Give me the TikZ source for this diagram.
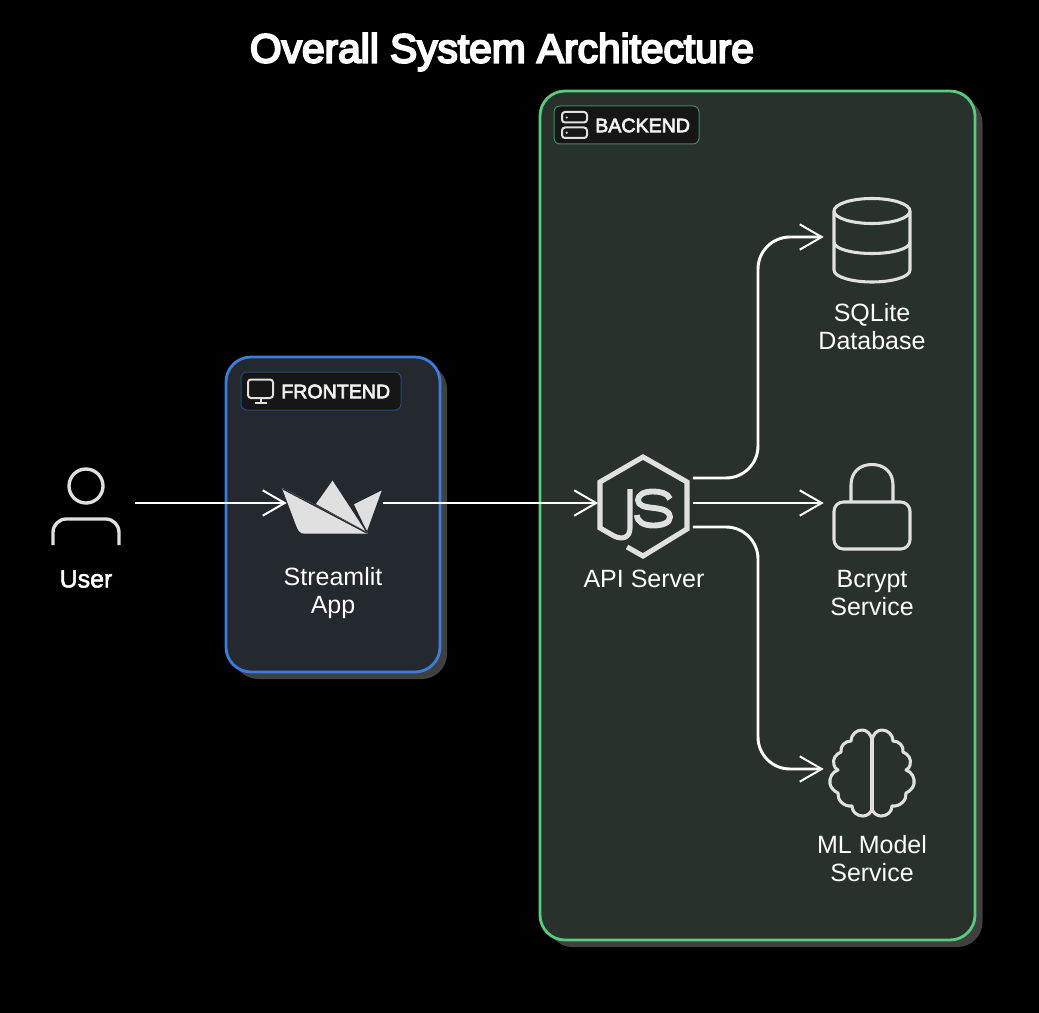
\documentclass[tikz,border=0pt]{standalone}
\usepackage{fontspec}
\setmainfont{Liberation Sans}
\newfontfamily\titlefont[FakeBold=5]{Liberation Sans}
\newfontfamily\chipfont[FakeBold=3.5]{Liberation Sans}
\newfontfamily\userfont[FakeBold=2]{Liberation Sans}
\usetikzlibrary{arrows.meta,calc}
\definecolor{bkfill}{HTML}{29312C}
\definecolor{frfill}{HTML}{24292F}
\definecolor{shadowc}{HTML}{404040}
\definecolor{bkline}{HTML}{57CC7A}
\definecolor{frline}{HTML}{3C7CDC}
\definecolor{chipfill}{HTML}{161616}
\definecolor{bkchip}{HTML}{3E8A58}
\definecolor{frchip}{HTML}{264A78}
\definecolor{iconc}{HTML}{E0E0E0}
\tikzset{
  px/.style={x=.75pt,y=-.75pt},
  groupbox/.style={rectangle,rounded corners=18.75pt,line width=2.1pt,inner sep=0pt},
  groupshadow/.style={rectangle,rounded corners=18.75pt,fill=shadowc,inner sep=0pt},
  chip/.style={rectangle,rounded corners=4.5pt,fill=chipfill,line width=.75pt,inner sep=0pt},
  chiptext/.style={anchor=west,inner sep=0pt,text=white!95!black,font=\chipfont\fontsize{14.7}{18}\selectfont},
  label/.style={align=center,inner sep=0pt,text=white,font=\fontsize{18.75}{21}\selectfont},
  iconbox/.style={rectangle,inner sep=0pt,minimum height=75pt},
  conn/.style={draw=white,line width=2.2pt,shorten >=-1.5pt,-{Straight Barb[length=16.5pt,width=19pt,line width=1.5pt]}},
  iconline/.style={draw=iconc,line width=2.3pt,line join=round},
  smallicon/.style={draw=iconc,line width=1.5pt,line join=round},
}
\begin{document}
\begin{tikzpicture}[px]
\useasboundingbox (0,0) rectangle (1039,1013);
\fill[black] (0,0) rectangle (1039,1013);
% title
\node[inner sep=0pt,text=white,font=\titlefont\fontsize{30.5}{36}\selectfont] (title) at (502,52) {Overall System Architecture};
% groups
\node[groupshadow,minimum width=326.25pt,minimum height=636.75pt] (backendshadow) at (765,522.5) {};
\node[groupbox,draw=bkline,fill=bkfill,minimum width=326.25pt,minimum height=636.75pt] (backend) at (757.5,515.5) {};
\node[groupshadow,minimum width=160.5pt,minimum height=236.25pt] (frontendshadow) at (340,521.5) {};
\node[groupbox,draw=frline,fill=frfill,minimum width=160.5pt,minimum height=236.25pt] (frontend) at (333,514.5) {};
% chips
\node[chip,draw=frchip,minimum width=120pt,minimum height=28.5pt] (frchipbox) at (321,391) {};
\node[chiptext] (frtext) at (281,391.5) {FRONTEND};
\node[chip,draw=bkchip,minimum width=108.75pt,minimum height=28.5pt] (bkchipbox) at (626.5,125) {};
\node[chiptext] (bktext) at (595,125.5) {BACKEND};
% chip icons
\draw[smallicon,rounded corners=2.2pt] (248,379.5) rectangle (273,398);
\draw[smallicon] (260.5,398) -- (260.5,403) (255,403) -- (266.5,403);
\draw[smallicon,rounded corners=2.2pt] (562,112) rectangle (587,122.5);
\draw[smallicon,rounded corners=2.2pt] (562,127.5) rectangle (587,138);
\fill[iconc] (566.7,117.5) circle (1.2) (566.7,132.7) circle (1.2);
% icon anchors
\node[iconbox,minimum width=73.5pt] (user) at (86,503) {};
\node[iconbox,minimum width=73.5pt] (streamlit) at (334,503) {};
\node[iconbox,minimum width=72pt] (api) at (644.5,503) {};
\node[iconbox,minimum width=75pt] (db) at (872,237) {};
\node[iconbox,minimum width=75pt] (lock) at (872,503) {};
\node[iconbox,minimum width=75pt] (brain) at (872,769) {};
\coordinate (apitop) at ($(api.east)+(0,-25)$);
\coordinate (apibot) at ($(api.east)+(0,24)$);
\coordinate (dbbend) at (758,237);
\coordinate (brainbend) at (758,769);
% connectors
\draw[conn] (user) -- (streamlit);
\draw[conn] (streamlit) -- (api);
\draw[conn] (api) -- (lock);
\draw[conn,rounded corners=24pt] (apitop) -| (dbbend) -- (db);
\draw[conn,rounded corners=24pt] (apibot) -| (brainbend) -- (brain);
% user
\draw[iconline,line width=2.5pt] (86,486) circle (17);
\draw[iconline,line width=2.5pt,rounded corners=10pt] (53,545) -- (53,519) -- (119,519) -- (119,545);
% streamlit logo
\begin{scope}[line join=round]
\fill[iconc] (333,480) -- (367,532) -- (316,504) -- cycle;
\draw[draw=frfill,fill=iconc,line width=.9pt] (383,489) -- (367,533) -- (353,504) -- cycle;
\draw[draw=frfill,line width=.9pt] (333,480) -- (367,532);
\draw[draw=iconc,fill=iconc,line width=1pt] (283,489) -- (294,518) .. controls (299,532) and (300,533) .. (305,533) -- (367,533) -- cycle;
\draw[draw=frfill,line width=1pt] (283,489) -- (367,533);
\end{scope}
% node.js logo
\draw[iconline,line width=3.8pt,line join=miter] (627,547) -- (643,556) -- (687,529) -- (687,482) -- (643,457) -- (600,482) -- (600,528) -- (614,536) .. controls (622,540) and (630,538) .. (630,528) -- (630,489);
\draw[iconline,line width=4.4pt] (670,499) .. controls (668,493) and (660,491.5) .. (653,491.5) .. controls (645,491.5) and (638,494) .. (638,500) .. controls (638,506) and (645,507) .. (654,508) .. controls (663,509) and (670,511) .. (670,517) .. controls (670,523) and (662,525.5) .. (653,525.5) .. controls (644,525.5) and (637,522) .. (637,515);
% database
\draw[iconline] (872,211) ellipse (38 and 12.5);
\draw[iconline] (834,211) -- (834,270) .. controls (834,277) and (852,282) .. (872,282) .. controls (892,282) and (910,277) .. (910,270) -- (910,211);
\draw[iconline] (834,242) .. controls (834,249) and (852,253.5) .. (872,253.5) .. controls (892,253.5) and (910,249) .. (910,242);
% lock
\draw[iconline,rounded corners=7pt] (834,502) rectangle (910,549);
\draw[iconline] (851,502) -- (851,485) .. controls (851,472) and (860,464.5) .. (872,464.5) .. controls (884,464.5) and (893,472) .. (893,485) -- (893,502);
% brain
\begin{scope}[shift={(872,773)}]
\foreach \mx in {1,-1}{
\draw[iconline,xscale=\mx] (0,-33) .. controls (1,-39) and (5,-43) .. (10,-43) .. controls (16,-43) and (21,-38) .. (21,-32) .. controls (27,-32) and (32,-27) .. (31,-21) .. controls (36,-19) and (40,-14) .. (38,-8) .. controls (38,-6) and (36,-4) .. (34,-3) .. controls (40,-1) and (43,5) .. (42,11) .. controls (41,15) and (38,18) .. (34,20) .. controls (35,27) and (28,34) .. (20,33) .. controls (20,39) and (15,43) .. (9,43) .. controls (5,43) and (1,40) .. (0,36);
}
\draw[iconline,line width=3pt] (0,-33) -- (0,38);
\end{scope}
% labels
\node[label,font=\userfont\fontsize{18.75}{21}\selectfont] (userlabel) at (86,579) {User};
\node[label] (streamlitlabel) at (333,593.5) {Streamlit\\App};
\node[label] (apilabel) at (644,579) {API Server};
\node[label] (dblabel) at (872,327) {SQLite\\Database};
\node[label] (locklabel) at (872,593) {Bcrypt\\Service};
\node[label] (brainlabel) at (872,859) {ML Model\\Service};
\end{tikzpicture}
\end{document}
